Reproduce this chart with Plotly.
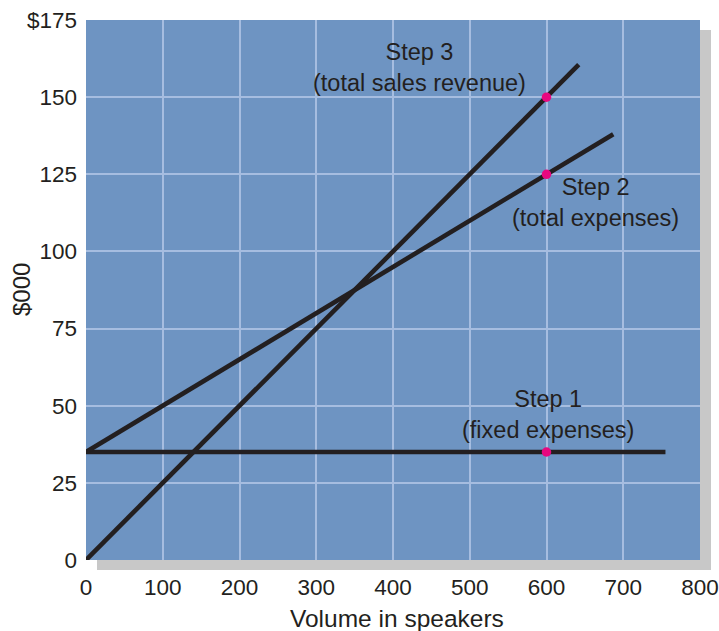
import plotly.graph_objects as go

# Break-even chart data (volume in speakers, $000)
volume_ticks = [0, 100, 200, 300, 400, 500, 600, 700, 800]
dollar_ticks = [0, 25, 50, 75, 100, 125, 150, 175]
dollar_labels = ["0", "25", "50", "75", "100", "125", "150", "$175"]

fixed_x = [0, 755]
fixed_y = [35, 35]

expenses_x = [0, 687]
expenses_y = [35, 138]

revenue_x = [0, 642]
revenue_y = [0, 160.5]

marker_x = [600, 600, 600]
marker_y = [35, 125, 150]

step_labels = ["Step 3<br>(total sales revenue)",
               "Step 2<br>(total expenses)",
               "Step 1<br>(fixed expenses)"]
step_label_x = [434, 664, 602]
step_label_y = [159.6, 116, 47]

INK = "#231f20"
PLOT_BLUE = "#6e94c2"
GRID = "#a6bde0"
SHADOW = "#c8c8c8"
FONT = "Liberation Sans, Arial, sans-serif"

fig = go.Figure()

line_style = dict(color=INK, width=4.6)
fig.add_trace(go.Scatter(x=fixed_x, y=fixed_y, mode="lines", line=line_style,
                         hoverinfo="skip", showlegend=False))
fig.add_trace(go.Scatter(x=expenses_x, y=expenses_y, mode="lines", line=line_style,
                         hoverinfo="skip", showlegend=False))
fig.add_trace(go.Scatter(x=revenue_x, y=revenue_y, mode="lines", line=line_style,
                         hoverinfo="skip", showlegend=False))
fig.add_trace(go.Scatter(x=marker_x, y=marker_y, mode="markers",
                         marker=dict(color="#e8087f", size=9.5),
                         hoverinfo="skip", showlegend=False))

W, H = 719, 631
ML, MR, MT, MB = 86, 19, 20, 71
pw, ph = W - ML - MR, H - MT - MB
dx, dy = 11 / pw, 10 / ph

# drop shadow behind the plot panel, then the blue panel itself
fig.add_shape(type="rect", xref="paper", yref="paper", layer="below",
              x0=dx, x1=1 + dx, y0=-dy, y1=1 - dy,
              fillcolor=SHADOW, line=dict(width=0))
fig.add_shape(type="rect", xref="paper", yref="paper", layer="below",
              x0=0, x1=1, y0=0, y1=1,
              fillcolor=PLOT_BLUE, line=dict(width=0))

for x, y, t in zip(step_label_x, step_label_y, step_labels):
    fig.add_annotation(x=x, y=y, text=t, showarrow=False, xanchor="center",
                       yanchor="middle", font=dict(size=23.5, color=INK, family=FONT))

# axis titles
fig.add_annotation(text="Volume in speakers", xref="paper", yref="paper",
                   x=0.507, y=0, yshift=-58, showarrow=False,
                   xanchor="center", yanchor="middle",
                   font=dict(size=24.5, color=INK, family=FONT))
fig.add_annotation(text="$000", xref="paper", yref="paper",
                   x=0, y=0.5, xshift=-65, textangle=-90, showarrow=False,
                   xanchor="center", yanchor="middle",
                   font=dict(size=24, color=INK, family=FONT))

fig.update_layout(
    width=W, height=H,
    margin=dict(l=ML, r=MR, t=MT, b=MB),
    paper_bgcolor="white",
    plot_bgcolor="rgba(0,0,0,0)",
    font=dict(family=FONT, color=INK, size=22.5),
)
fig.update_xaxes(range=[0, 800], tickvals=volume_ticks, showgrid=True,
                 gridcolor=GRID, gridwidth=2, zeroline=False, showline=False,
                 ticklabelstandoff=11, automargin=False)
fig.update_yaxes(range=[0, 175], tickvals=dollar_ticks, ticktext=dollar_labels,
                 showgrid=True, gridcolor=GRID, gridwidth=2, zeroline=False,
                 showline=False, ticklabelstandoff=8, automargin=False)

fig.write_html("out.html")
